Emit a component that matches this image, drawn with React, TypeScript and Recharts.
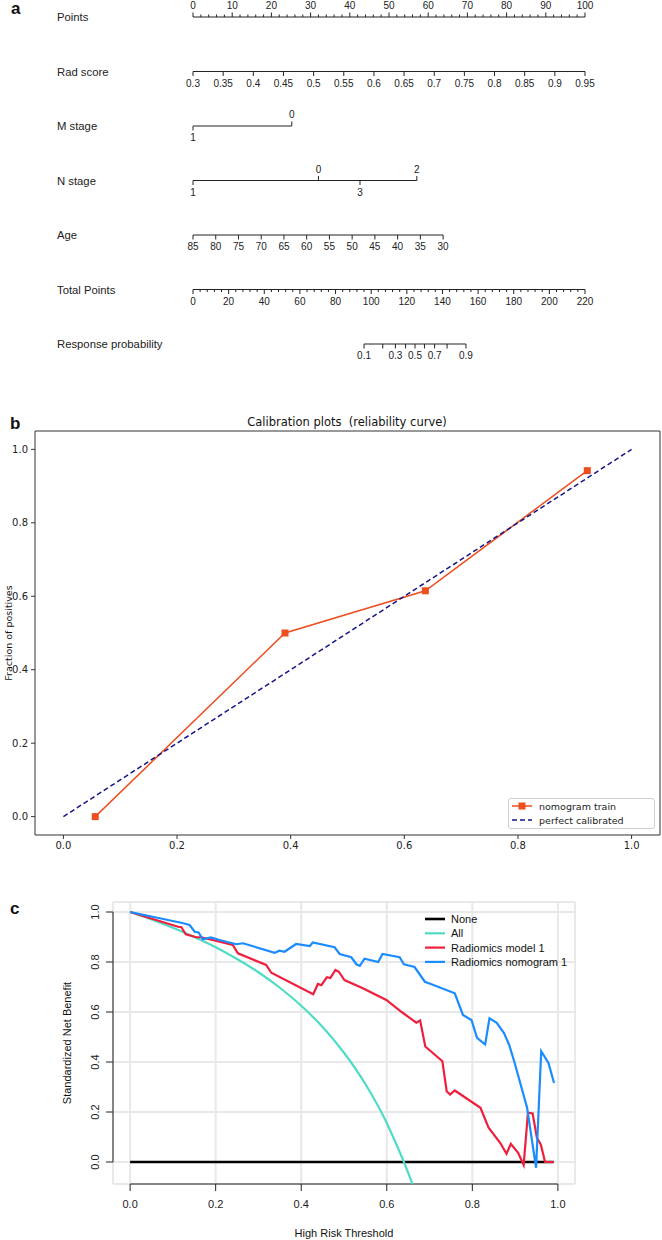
import React from 'react';
import {
  ComposedChart, LineChart, Line, XAxis, YAxis, Scatter, ReferenceLine,
  ReferenceArea, CartesianGrid, Legend,
} from 'recharts';

const FONT_R = '"Liberation Sans", Arial, Helvetica, sans-serif';
const FONT_MPL = '"DejaVu Sans", sans-serif';
const INK = '#222222';

// ================= Panel a : nomogram =================
const nomoRowNames = ['Points', 'Rad score', 'M stage', 'N stage', 'Age', 'Total Points', 'Response probability'];
const pointsTicks = [0, 10, 20, 30, 40, 50, 60, 70, 80, 90, 100];
const pointsMinorStep = 2;
const radScoreTicks = [0.3, 0.35, 0.4, 0.45, 0.5, 0.55, 0.6, 0.65, 0.7, 0.75, 0.8, 0.85, 0.9, 0.95];
const mStageLevels = ['1', '0'];
const mStagePoints = [0, 25.2];
const mStageSides = [1, -1];
const nStageLevels = ['1', '0', '3', '2'];
const nStagePoints = [0, 32.0, 42.6, 57.1];
const nStageSides = [1, -1, 1, -1];
const ageTicks = [85, 80, 75, 70, 65, 60, 55, 50, 45, 40, 35, 30];
const agePointsAtYoungest = 63.8;
const totalPointsTicks = [0, 20, 40, 60, 80, 100, 120, 140, 160, 180, 200, 220];
const totalMinorStep = 4;
const respProbTicks = ['0.1', '0.2', '0.3', '0.4', '0.5', '0.6', '0.7', '0.8', '0.9'];
const respProbTotalPoints = [96.0, 106.5, 113.6, 119.3, 124.6, 129.9, 135.6, 142.6, 153.2];
const respProbLabelled = ['0.1', '0.3', '0.5', '0.7', '0.9'];

type NomoTick = { x: number; y: number; label: string; dir: number; minor?: boolean };

const stepRange = (a: number, b: number, s: number) => {
  const out: number[] = [];
  for (let v = a; v <= b + 1e-9; v += s) out.push(Math.round(v * 1000) / 1000);
  return out;
};
const totalMax = totalPointsTicks[totalPointsTicks.length - 1];
const tpToPts = (t: number) => (t / totalMax) * 100;
const radToPts = (r: number) =>
  ((r - radScoreTicks[0]) / (radScoreTicks[radScoreTicks.length - 1] - radScoreTicks[0])) * 100;
const ageToPts = (a: number) =>
  ((ageTicks[0] - a) / (ageTicks[0] - ageTicks[ageTicks.length - 1])) * agePointsAtYoungest;

const nomoTicks: NomoTick[] = [
  ...stepRange(0, 100, pointsMinorStep).map((v) => ({
    x: v, y: 0, label: pointsTicks.includes(v) ? String(v) : '', dir: -1, minor: !pointsTicks.includes(v),
  })),
  ...radScoreTicks.map((v) => ({ x: radToPts(v), y: 1, label: String(v), dir: 1 })),
  ...mStageLevels.map((l, i) => ({ x: mStagePoints[i], y: 2, label: l, dir: mStageSides[i] })),
  ...nStageLevels.map((l, i) => ({ x: nStagePoints[i], y: 3, label: l, dir: nStageSides[i] })),
  ...ageTicks.map((a) => ({ x: ageToPts(a), y: 4, label: String(a), dir: 1 })),
  ...stepRange(0, totalMax, totalMinorStep).map((v) => ({
    x: tpToPts(v), y: 5, label: totalPointsTicks.includes(v) ? String(v) : '', dir: 1,
    minor: !totalPointsTicks.includes(v),
  })),
  ...respProbTicks.map((p, i) => ({
    x: tpToPts(respProbTotalPoints[i]), y: 6, label: respProbLabelled.includes(p) ? p : '', dir: 1,
  })),
];

const rowSegments = nomoRowNames.map((_, r) => {
  const xs = nomoTicks.filter((t) => t.y === r).map((t) => t.x);
  return [Math.min(...xs), Math.max(...xs)];
});

const rowNameData = nomoRowNames.map((name, r) => ({ x: 0, y: r, name }));

const NomoTickShape = (props: any) => {
  const { cx, cy, payload } = props;
  if (cx == null || cy == null || !payload) return <g />;
  const len = payload.minor ? 2.5 : 4.5;
  return (
    <g>
      <line x1={cx} y1={cy} x2={cx} y2={cy + payload.dir * len} stroke={INK} strokeWidth={1} />
      {payload.label ? (
        <text x={cx} y={cy + payload.dir * 11.5} textAnchor="middle" dominantBaseline="central"
          fontSize={10} fontFamily={FONT_R} fill={INK}>{payload.label}</text>
      ) : null}
    </g>
  );
};

// variable names sit a fixed distance left of the 0-point position of each row
const RowNameShape = (props: any) => {
  const { cx, cy, payload } = props;
  if (cx == null || cy == null || !payload) return <g />;
  return (
    <text x={cx - 136} y={cy} dominantBaseline="central" fontSize={11.3} fontFamily={FONT_R} fill={INK}>
      {payload.name}
    </text>
  );
};

function NomogramPanel() {
  return (
    <ComposedChart width={662} height={370} margin={{ top: 17, right: 77, bottom: 26, left: 193 }}>
      <XAxis type="number" dataKey="x" domain={[0, 100]} hide />
      <YAxis type="number" dataKey="y" domain={[0, 6]} reversed hide />
      {rowSegments.map(([a, b], r) => (
        <ReferenceLine key={r} segment={[{ x: a, y: r }, { x: b, y: r }]} stroke={INK} strokeWidth={1} />
      ))}
      <Scatter data={nomoTicks} shape={NomoTickShape} isAnimationActive={false} />
      <Scatter data={rowNameData} shape={RowNameShape} isAnimationActive={false} />
    </ComposedChart>
  );
}

// ================= Panel b : calibration =================
const calibX = [0.056, 0.39, 0.637, 0.922];
const calibY = [0.0, 0.5, 0.615, 0.942];
const perfectX = [0, 1];
const perfectY = [0, 1];
const calibTicks = [0, 0.2, 0.4, 0.6, 0.8, 1.0];
const calibColor = '#ee4d1e';
const perfectColor = '#14148c';

const calibData = calibX.map((x, i) => ({ x, y: calibY[i] }));
const perfectData = perfectX.map((x, i) => ({ x, y: perfectY[i] }));

const SquareDot = (props: any) => {
  const { cx, cy } = props;
  if (cx == null || cy == null) return <g />;
  return <rect x={cx - 3.5} y={cy - 3.5} width={7} height={7} fill={calibColor} />;
};

const CalibLegend = () => (
  <div style={{ width: 147, height: 31, border: '1px solid #cfcfcf', borderRadius: 3, background: '#fff', boxSizing: 'border-box' }}>
    <svg width={145} height={29} style={{ display: 'block' }}>
      <line x1={3} x2={23} y1={7} y2={7} stroke={calibColor} strokeWidth={1.5} />
      <rect x={9.5} y={3.5} width={7} height={7} fill={calibColor} />
      <text x={30} y={7} dominantBaseline="central" fontSize={9.5} fontFamily={FONT_MPL} fill={INK}>nomogram train</text>
      <line x1={3} x2={23} y1={21} y2={21} stroke={perfectColor} strokeWidth={1.5} strokeDasharray="5 3" />
      <text x={30} y={21} dominantBaseline="central" fontSize={9.5} fontFamily={FONT_MPL} fill={INK}>perfect calibrated</text>
    </svg>
  </div>
);

function CalibrationPanel() {
  return (
    <LineChart width={662} height={460} margin={{ top: 31, right: 2, bottom: 0, left: 0 }}>
      <XAxis type="number" dataKey="x" domain={[-0.05, 1.05]} ticks={calibTicks} height={25}
        tickSize={4} tickMargin={3} axisLine={false} tickLine={{ stroke: '#333' }}
        tick={{ fontSize: 10, fontFamily: FONT_MPL, fill: INK }} tickFormatter={(v: number) => v.toFixed(1)} />
      <YAxis type="number" dataKey="y" domain={[-0.05, 1.05]} ticks={calibTicks} width={35}
        tickSize={4} tickMargin={3} axisLine={false} tickLine={{ stroke: '#333' }}
        tick={{ fontSize: 10, fontFamily: FONT_MPL, fill: INK }} tickFormatter={(v: number) => v.toFixed(1)} />
      <ReferenceArea x1={-0.05} x2={1.05} y1={-0.05} y2={1.05} fill="none" fillOpacity={0} stroke="#333" strokeWidth={1} />
      <Line data={calibData} dataKey="y" name="nomogram train" stroke={calibColor} strokeWidth={1.5}
        dot={SquareDot} activeDot={false} isAnimationActive={false} />
      <Line data={perfectData} dataKey="y" name="perfect calibrated" stroke={perfectColor} strokeWidth={1.5}
        strokeDasharray="5 3" dot={false} activeDot={false} isAnimationActive={false} />
      <Legend layout="vertical" align="center" verticalAlign="middle"
        wrapperStyle={{ left: 508, top: 398, width: 147, height: 31 }} content={() => <CalibLegend />} />
    </LineChart>
  );
}

// ================= Panel c : decision curve =================
const noneX = [0, 0.99];
const noneY = [0, 0];
const allX = [0, 0.05, 0.1, 0.15, 0.2, 0.25, 0.3, 0.35, 0.4, 0.45, 0.5, 0.55, 0.6, 0.62, 0.64, 0.66];
const allY = [1.0, 0.97, 0.937, 0.9, 0.859, 0.812, 0.759, 0.697, 0.625, 0.54, 0.437, 0.312, 0.156, 0.08, 0.0, -0.088];
const modelX = [0, 0.112, 0.12, 0.13, 0.155, 0.166, 0.24, 0.252, 0.318, 0.33, 0.428, 0.439, 0.447, 0.46, 0.468,
  0.48, 0.488, 0.501, 0.544, 0.599, 0.634, 0.669, 0.678, 0.69, 0.73, 0.74, 0.748, 0.759, 0.819, 0.838, 0.865,
  0.88, 0.89, 0.907, 0.92, 0.93, 0.941, 0.951, 0.96, 0.97, 0.99];
const modelY = [1.0, 0.941, 0.939, 0.911, 0.899, 0.899, 0.868, 0.835, 0.788, 0.757, 0.671, 0.712, 0.707, 0.739, 0.736,
  0.768, 0.761, 0.728, 0.695, 0.648, 0.601, 0.557, 0.566, 0.462, 0.403, 0.283, 0.27, 0.286, 0.217, 0.137, 0.077,
  0.033, 0.073, 0.037, -0.012, 0.197, 0.194, 0.097, 0.07, 0.0, 0.0];
const nomoX = [0, 0.108, 0.12, 0.139, 0.151, 0.16, 0.17, 0.189, 0.209, 0.248, 0.264, 0.338, 0.349, 0.361, 0.388,
  0.42, 0.427, 0.478, 0.49, 0.517, 0.529, 0.537, 0.548, 0.58, 0.59, 0.63, 0.64, 0.665, 0.689, 0.703, 0.759, 0.778,
  0.798, 0.811, 0.83, 0.84, 0.857, 0.874, 0.886, 0.899, 0.928, 0.949, 0.961, 0.978, 0.991];
const nomoY = [1.0, 0.961, 0.957, 0.948, 0.921, 0.918, 0.891, 0.898, 0.888, 0.871, 0.875, 0.837, 0.845, 0.841, 0.872,
  0.864, 0.878, 0.859, 0.832, 0.819, 0.791, 0.785, 0.813, 0.8, 0.832, 0.819, 0.791, 0.78, 0.721, 0.712, 0.675, 0.588,
  0.568, 0.497, 0.47, 0.575, 0.557, 0.516, 0.469, 0.396, 0.217, -0.023, 0.443, 0.396, 0.316];
const dcaTicks = [0, 0.2, 0.4, 0.6, 0.8, 1.0];
const dcaSeries = [
  { name: 'None', xs: noneX, ys: noneY, color: '#000000', width: 2.4, curve: 'linear' },
  { name: 'All', xs: allX, ys: allY, color: '#4fdcc6', width: 2.2, curve: 'monotone' },
  { name: 'Radiomics model 1', xs: modelX, ys: modelY, color: '#ee1f3d', width: 2.2, curve: 'linear' },
  { name: 'Radiomics nomogram 1', xs: nomoX, ys: nomoY, color: '#1a8cff', width: 2.2, curve: 'linear' },
];
const DCA_YMIN = -0.088;
const DCA_YMAX = 1.04;
const DCA_XMIN = -0.04;
const DCA_XMAX = 1.04;

const DcaYTick = (props: any) => {
  const { x, y, payload } = props;
  return (
    <text x={x} y={y} transform={`rotate(-90 ${x} ${y})`} textAnchor="middle" dominantBaseline="central"
      fontSize={11} fontFamily={FONT_R} fill={INK}>{Number(payload.value).toFixed(1)}</text>
  );
};

const DcaLegend = () => (
  <svg width={170} height={58} style={{ display: 'block' }}>
    {dcaSeries.map((s, i) => (
      <g key={s.name}>
        <line x1={3} x2={23} y1={7 + i * 14.3} y2={7 + i * 14.3} stroke={s.color} strokeWidth={s.name === 'None' ? 2.6 : 2.2} />
        <text x={29} y={7 + i * 14.3} dominantBaseline="central" fontSize={11} fontFamily={FONT_R} fill="#111">{s.name}</text>
      </g>
    ))}
  </svg>
);

function DcaPanel() {
  return (
    <LineChart width={662} height={360} margin={{ top: 22, right: 87, bottom: 0, left: 73 }}>
      <CartesianGrid stroke="#e8e8e8" strokeWidth={2} />
      <XAxis type="number" dataKey="x" domain={[DCA_XMIN, DCA_XMAX]} ticks={dcaTicks} height={56}
        tickSize={7} tickMargin={9} axisLine={false} tickLine={{ stroke: INK }}
        tick={{ fontSize: 11, fontFamily: FONT_R, fill: INK }} tickFormatter={(v: number) => v.toFixed(1)} />
      <YAxis type="number" dataKey="y" domain={[DCA_YMIN, DCA_YMAX]} ticks={dcaTicks} width={40}
        tickSize={7} tickMargin={11} axisLine={false} tickLine={{ stroke: INK }} tick={DcaYTick} interval={0} />
      <ReferenceLine segment={[{ x: 0, y: DCA_YMIN }, { x: 1, y: DCA_YMIN }]} stroke={INK} strokeWidth={1} />
      <ReferenceLine segment={[{ x: DCA_XMIN, y: 0 }, { x: DCA_XMIN, y: 1 }]} stroke={INK} strokeWidth={1} />
      {dcaSeries.map((s) => (
        <Line key={s.name} data={s.xs.map((x, i) => ({ x, y: s.ys[i] }))} dataKey="y" name={s.name}
          type={s.curve as any} stroke={s.color} strokeWidth={s.width} dot={false} activeDot={false}
          isAnimationActive={false} />
      ))}
      <Legend layout="vertical" align="center" verticalAlign="middle"
        wrapperStyle={{ left: 422, top: 32, width: 170, height: 58 }} content={() => <DcaLegend />} />
    </LineChart>
  );
}

export default function App() {
  return (
    <div style={{ position: 'absolute', left: 0, top: 0, width: 662, height: 1240, background: '#fff', overflow: 'hidden' }}>
      <div style={{ position: 'absolute', left: 0, top: 0 }}><NomogramPanel /></div>
      <div style={{ position: 'absolute', left: 0, top: 400 }}><CalibrationPanel /></div>
      <div style={{ position: 'absolute', left: 0, top: 880 }}><DcaPanel /></div>
      <svg width={662} height={1240} style={{ position: 'absolute', left: 0, top: 0, pointerEvents: 'none' }}>
        <text x={11} y={14} fontSize={17} fontWeight="bold" fontFamily={FONT_R} fill="#111">a</text>
        <text x={10} y={429} fontSize={17} fontWeight="bold" fontFamily={FONT_R} fill="#111">b</text>
        <text x={10} y={914} fontSize={17} fontWeight="bold" fontFamily={FONT_R} fill="#111">c</text>
        <text x={347} y={426} textAnchor="middle" fontSize={11.5} fontFamily={FONT_MPL} fill="#111"
          style={{ whiteSpace: 'pre' }}>{'Calibration plots  (reliability curve)'}</text>
        <text x={8} y={633} transform="rotate(-90 8 633)" textAnchor="middle" dominantBaseline="central"
          fontSize={9.5} fontFamily={FONT_MPL} fill="#111">Fraction of positives</text>
        <text x={67} y={1043} transform="rotate(-90 67 1043)" textAnchor="middle" dominantBaseline="central"
          fontSize={11} fontFamily={FONT_R} fill="#111">Standardized Net Benefit</text>
        <text x={344} y={1233} textAnchor="middle" dominantBaseline="central"
          fontSize={11} fontFamily={FONT_R} fill="#111">High Risk Threshold</text>
      </svg>
    </div>
  );
}
